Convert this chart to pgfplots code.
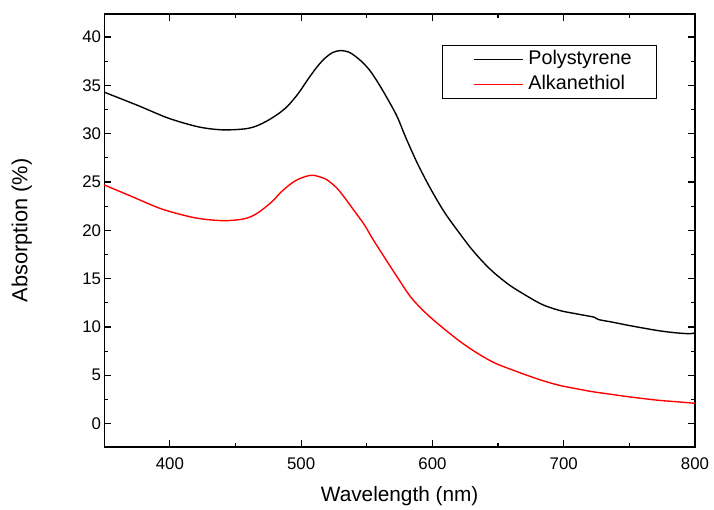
\documentclass[border=0pt]{standalone}
\usepackage{fontspec}
\setmainfont{Liberation Sans}
\usepackage{pgfplots}
\pgfplotsset{compat=1.18}
\begin{document}
\begin{tikzpicture}
\begin{axis}[
  name=ax,
  scale only axis,
  width=595bp, height=436bp,
  xmin=350, xmax=800, ymin=-2.4, ymax=42.4,
  xtick={400,500,600,700,800},
  minor xtick={350,450,550,650,750},
  ytick={0,5,10,15,20,25,30,35,40},
  minor ytick={-2.5,2.5,7.5,12.5,17.5,22.5,27.5,32.5,37.5},
  tick align=inside,
  major tick length=7bp, minor tick length=4bp,
  tick style={black, line width=1.2pt},
  axis line style={line width=1.5pt},
  /pgf/number format/assume math mode=true,
  ticklabel style={font=\fontsize{17}{19}\selectfont},
  yticklabel style={inner sep=3bp},
  xticklabel style={inner sep=5bp, yshift=-6bp},
  xlabel={Wavelength (nm)}, ylabel={Absorption (\%)},
  xlabel style={font=\fontsize{21}{23}\selectfont, at={(axis description cs:0.5,0)}, anchor=center, yshift=-50bp},
  ylabel style={font=\fontsize{22}{24}\selectfont, at={(axis description cs:0,0.5)}, anchor=center, xshift=0bp, yshift=83bp},
  legend style={at={(0.571,0.929)}, anchor=north west, draw=black, line width=0.8pt,
    font=\fontsize{20}{22}\selectfont, inner xsep=1bp, inner ysep=4bp, row sep=4bp,
    nodes={inner ysep=1bp, inner xsep=5bp, text height=15bp, text depth=4bp}},
  legend cell align=left,
  legend image code/.code={\pgfpathrectangle{\pgfpoint{0bp}{-1bp}}{\pgfpoint{81bp}{2bp}}\pgfusepath{use as bounding box}\draw[line width=1pt] (31bp,0bp) -- (81bp,0bp);},
]
\addplot[black, line width=1.4pt, smooth] coordinates {
(350,34.3) (376,32.9) (399,31.6) (422,30.7) (440,30.4) (457,30.5) (466,30.8) (475,31.4) (483,32.1) (490,32.9) (498,34.2) (505,35.6) (512,36.9) (518,37.8) (524,38.4) (530,38.6) (537,38.4) (545,37.6) (552,36.6) (558,35.4) (565,33.8) (573,31.8) (580,29.5) (589,26.8) (599,24.2) (609,21.9) (619,20.0) (629,18.2) (638,16.8) (647,15.6) (659,14.3) (672,13.2) (684,12.3) (697,11.7) (710,11.35) (722,11.05) (724,10.95) (727,10.75) (737,10.5) (748,10.2) (760,9.9) (773,9.6) (785,9.4) (796,9.3) (800,9.4)
};
\addlegendentry{Polystyrene\kern19bp\relax}
\addplot[red, line width=1.4pt, smooth] coordinates {
(350,24.7) (371,23.5) (394,22.2) (419,21.3) (440,21.0) (455,21.15) (463,21.5) (470,22.1) (478,23.0) (485,24.0) (492,24.8) (498,25.3) (504,25.6) (509,25.7) (515,25.5) (520,25.2) (527,24.4) (533,23.4) (540,22.1) (548,20.6) (555,19.0) (563,17.3) (573,15.2) (584,13.0) (596,11.3) (608,9.9) (621,8.5) (634,7.3) (647,6.3) (660,5.6) (672,5.0) (685,4.4) (697,3.95) (710,3.6) (722,3.3) (735,3.05) (748,2.8) (760,2.6) (773,2.4) (787,2.25) (800,2.1)
};
\addlegendentry{Alkanethiol}
\end{axis}
\path (ax.south west) ++(-105bp,-59bp) coordinate (bbsw);
\path (ax.north east) ++(14bp,14bp) coordinate (bbne);
\path (bbsw) rectangle (bbne);
\end{tikzpicture}
\end{document}
